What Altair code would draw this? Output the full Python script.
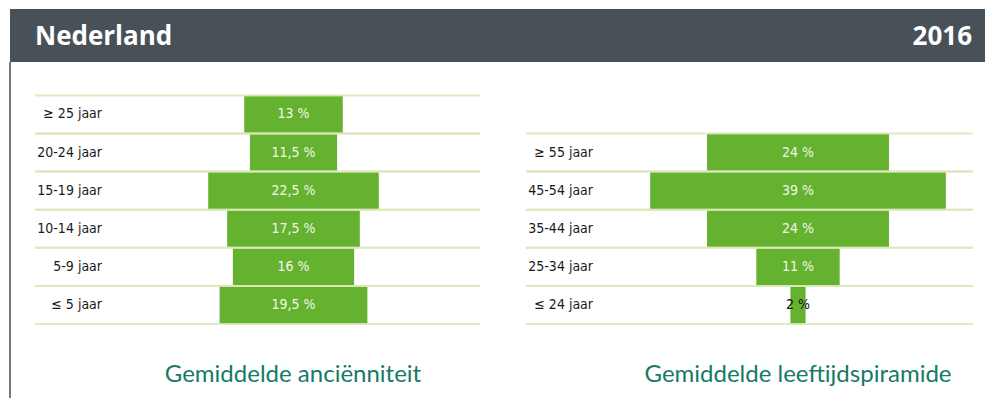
import altair as alt
import pandas as pd

# ---- data ----
header_title = "Nederland"
header_year = "2016"

left_title = "Gemiddelde anciënniteit"
left_cats = ["≥ 25 jaar", "20-24 jaar", "15-19 jaar", "10-14 jaar", "5-9 jaar", "≤ 5 jaar"]
left_vals = [13, 11.5, 22.5, 17.5, 16, 19.5]

right_title = "Gemiddelde leeftijdspiramide"
right_cats = ["≥ 55 jaar", "45-54 jaar", "35-44 jaar", "25-34 jaar", "≤ 24 jaar"]
right_vals = [24, 39, 24, 11, 2]

# ---- style ----
GREEN = "#64b22f"
LINE = "#dce8b8"
DARK = "#475157"
TEAL = "#167a69"
LABEL_FONT = "Liberation Sans Narrow, DejaVu Sans Condensed"
W, H = 977, 390
ROW = 38.1
Y_BOTTOM = 316
PX_PER_PCT = 7.58
HALF = 20


def panel(cats, vals, center, line_x0, line_x1, label_x, title, title_x):
    df = pd.DataFrame({"cat": cats, "v": vals})
    n = len(cats)
    yscale = alt.Scale(domain=cats, range=[Y_BOTTOM - n * ROW, Y_BOTTOM],
                       paddingInner=0, paddingOuter=0)
    xscale = alt.Scale(domain=[-HALF, HALF],
                       range=[center - HALF * PX_PER_PCT, center + HALF * PX_PER_PCT])
    base = alt.Chart(df).transform_calculate(
        lo="-datum.v/2", hi="datum.v/2",
        lab="replace(format(datum.v, '.1~f'), '.', ',') + ' %'"
    )
    bars = base.mark_bar(color=GREEN).encode(
        x=alt.X("lo:Q", scale=xscale, axis=None),
        x2="hi:Q",
        y=alt.Y("cat:N", scale=yscale, axis=None),
    )
    rules_top = base.mark_rule(color=LINE, strokeWidth=2, opacity=0.85).encode(
        x=alt.value(line_x0), x2=alt.value(line_x1),
        y=alt.Y("cat:N", scale=yscale, axis=None, bandPosition=0),
    )
    rules_bot = base.mark_rule(color=LINE, strokeWidth=2, opacity=0.85).encode(
        x=alt.value(line_x0), x2=alt.value(line_x1),
        y=alt.Y("cat:N", scale=yscale, axis=None, bandPosition=1),
    )
    vals_txt = base.mark_text(font=LABEL_FONT, fontSize=14, baseline="middle").encode(
        x=alt.datum(0, scale=xscale),
        y=alt.Y("cat:N", scale=yscale, axis=None),
        text="lab:N",
        color=alt.condition("datum.v < 5", alt.value("#111111"), alt.value("#f2f6ea")),
    )
    cat_txt = base.mark_text(font=LABEL_FONT, fontSize=14, align="right",
                             baseline="middle", color="#1a1a1a").encode(
        x=alt.value(label_x),
        y=alt.Y("cat:N", scale=yscale, axis=None),
        text="cat:N",
    )
    ttl = alt.Chart(pd.DataFrame({"t": [title]})).mark_text(
        font="Lato", fontSize=24, color=TEAL, align="center", baseline="middle"
    ).encode(x=alt.value(title_x), y=alt.value(367), text="t:N")
    return alt.layer(bars, rules_top, rules_bot, vals_txt, cat_txt, ttl)


left = panel(left_cats, left_vals, 285.5, 27, 472, 94, left_title, 285)
right = panel(right_cats, right_vals, 790, 518, 965, 585, right_title, 790)

one = pd.DataFrame({"a": [0]})
header_rect = alt.Chart(one).mark_rect(color=DARK).encode(
    x=alt.value(2), x2=alt.value(W), y=alt.value(1), y2=alt.value(54)
)
side_line = alt.Chart(one).mark_rule(color=DARK, strokeWidth=1.5).encode(
    x=alt.value(2), y=alt.value(54), y2=alt.value(H)
)
head_txt = alt.Chart(pd.DataFrame({"t": [header_title]})).mark_text(
    font="Open Sans", fontWeight="bold", fontSize=26, color="white",
    align="left", baseline="middle"
).encode(x=alt.value(27), y=alt.value(29), text="t:N")
year_txt = alt.Chart(pd.DataFrame({"t": [header_year]})).mark_text(
    font="Open Sans", fontWeight="bold", fontSize=26, color="white",
    align="right", baseline="middle"
).encode(x=alt.value(964), y=alt.value(29), text="t:N")

chart = alt.layer(
    header_rect, side_line, head_txt, year_txt, left, right
).resolve_scale(x="independent", y="independent").properties(
    width=W, height=H, autosize="none", padding=0, background="white"
).configure_view(stroke=None)

chart.save("out.html", embed_options={"renderer": "svg", "actions": False})
